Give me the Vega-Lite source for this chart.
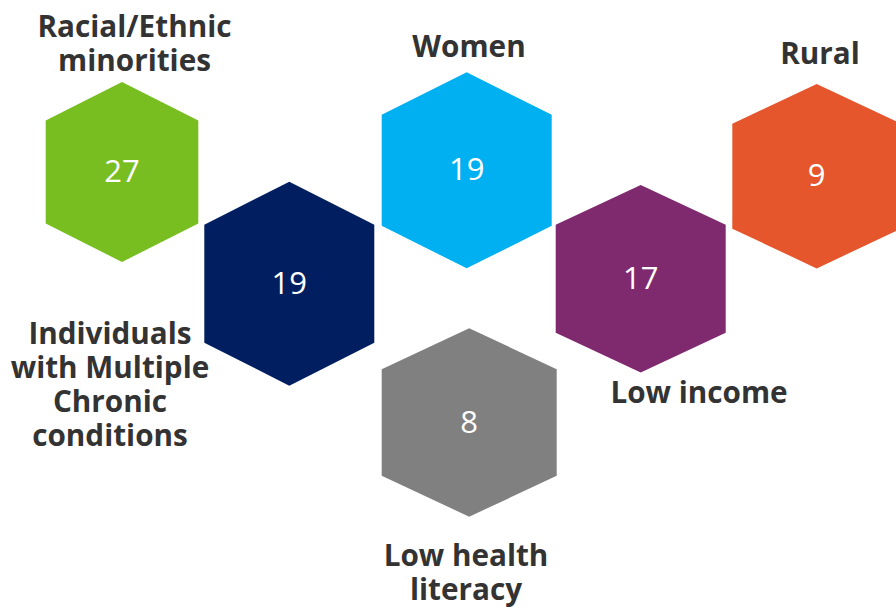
{
  "$schema": "https://vega.github.io/schema/vega-lite/v6.json",
  "width": 896,
  "height": 607,
  "autosize": {"type": "none"},
  "padding": 0,
  "background": "#ffffff",
  "config": {"view": {"stroke": null}},
  "data": {
    "values": [
      {"group": "Racial/Ethnic minorities", "value": 27, "x": 122, "y": 172, "label": "Racial/Ethnic\nminorities", "lx": 134.5, "ly": 37},
      {"group": "Individuals with Multiple Chronic conditions", "value": 19, "x": 289.3, "y": 283.7, "label": "Individuals\nwith Multiple\nChronic\nconditions", "lx": 110, "ly": 343.5},
      {"group": "Women", "value": 19, "x": 466.7, "y": 170.3, "label": "Women", "lx": 469, "ly": 57},
      {"group": "Low health literacy", "value": 8, "x": 469.2, "y": 422.5, "label": "Low health\nliteracy", "lx": 466, "ly": 566},
      {"group": "Low income", "value": 17, "x": 640.7, "y": 278.8, "label": "Low income", "lx": 699, "ly": 402.5},
      {"group": "Rural", "value": 9, "x": 816.7, "y": 176.2, "label": "Rural", "lx": 820, "ly": 63.5}
    ]
  },
  "layer": [
    {
      "mark": {"type": "point", "filled": true, "opacity": 1, "size": 40000, "strokeWidth": 0},
      "encoding": {
        "x": {"field": "x", "type": "quantitative", "scale": {"domain": [0, 896], "nice": false, "zero": false}, "axis": null},
        "y": {"field": "y", "type": "quantitative", "scale": {"domain": [0, 607], "nice": false, "zero": false, "reverse": true}, "axis": null},
        "color": {
          "field": "group", "type": "nominal", "legend": null,
          "scale": {
            "domain": ["Racial/Ethnic minorities", "Individuals with Multiple Chronic conditions", "Women", "Low health literacy", "Low income", "Rural"],
            "range": ["#78BE21", "#001E60", "#00B0F0", "#808080", "#7F2A6E", "#E5562D"]
          }
        },
        "shape": {
          "field": "group", "type": "nominal", "legend": null,
          "scale": {
            "domain": ["Racial/Ethnic minorities", "Individuals with Multiple Chronic conditions", "Women", "Low health literacy", "Low income", "Rural"],
            "range": [
              "M0,-0.9L0.763,-0.515L0.763,0.515L0,0.9L-0.763,0.515L-0.763,-0.515Z",
              "M0,-1.02L0.85,-0.59L0.85,0.59L0,1.02L-0.85,0.59L-0.85,-0.59Z",
              "M0,-0.98L0.85,-0.555L0.85,0.555L0,0.98L-0.85,0.555L-0.85,-0.555Z",
              "M0,-0.942L0.875,-0.533L0.875,0.533L0,0.942L-0.875,0.533L-0.875,-0.533Z",
              "M0,-0.938L0.85,-0.54L0.85,0.54L0,0.938L-0.85,0.54L-0.85,-0.54Z",
              "M0,-0.922L0.844,-0.525L0.844,0.525L0,0.922L-0.844,0.525L-0.844,-0.525Z"
            ]
          }
        }
      }
    },
    {
      "mark": {"type": "text", "font": "Open Sans", "fontSize": 31, "fontWeight": "normal", "color": "#ffffff", "align": "center", "baseline": "alphabetic", "dy": 10},
      "encoding": {
        "x": {"field": "x", "type": "quantitative"},
        "y": {"field": "y", "type": "quantitative"},
        "text": {"field": "value", "type": "quantitative"}
      }
    },
    {
      "mark": {"type": "text", "font": "Open Sans", "fontSize": 29.7, "fontWeight": "bold", "color": "#333333", "align": "center", "baseline": "alphabetic", "lineBreak": "\n", "lineHeight": 34},
      "encoding": {
        "x": {"field": "lx", "type": "quantitative"},
        "y": {"field": "ly", "type": "quantitative"},
        "text": {"field": "label", "type": "nominal"}
      }
    }
  ]
}
